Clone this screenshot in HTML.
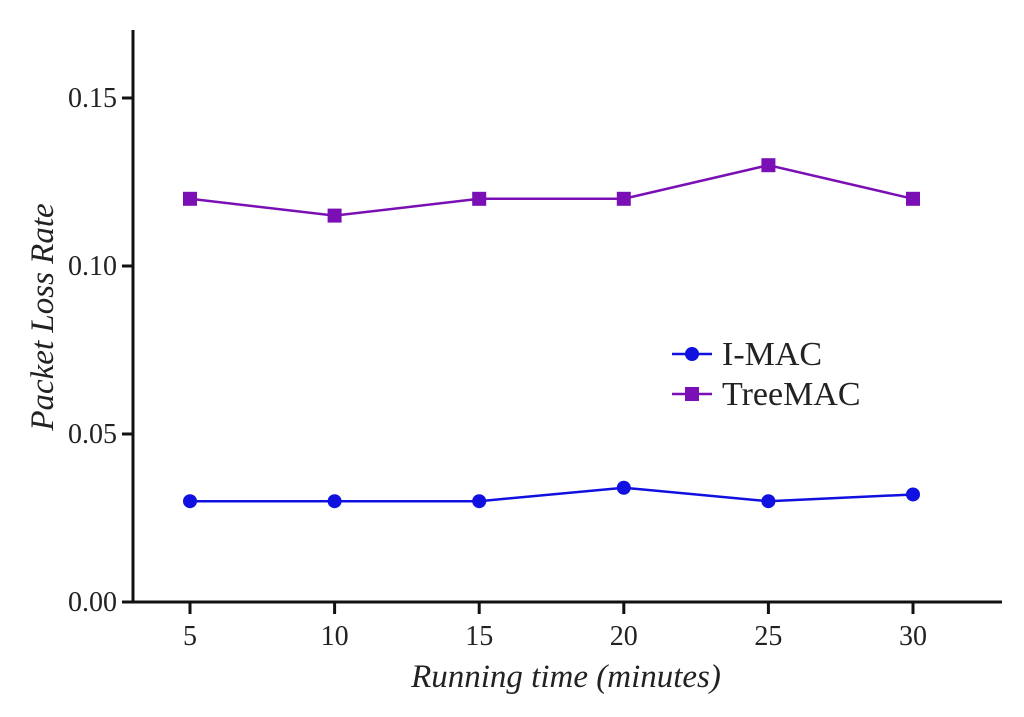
<!DOCTYPE html>
<html><head><meta charset="utf-8"><style>
body{margin:0;background:#fff;width:1024px;height:712px;overflow:hidden}
svg text{font-family:"Liberation Serif",serif;fill:#222}
</style></head><body>
<svg id="chart" width="1024" height="712" xmlns="http://www.w3.org/2000/svg"></svg>
<script>
const categories=[5,10,15,20,25,30];
const imacValues=[0.03,0.03,0.03,0.034,0.03,0.032];
const treemacValues=[0.12,0.115,0.12,0.12,0.13,0.12];
const yTicks=["0.00","0.05","0.10","0.15"];
const NS="http://www.w3.org/2000/svg";
const svg=document.getElementById('chart');
function xS(v){return 190+(v-5)*(913-190)/25;}
function yS(v){return 602-v*(602-98)/0.15;}
function mk(tag,attrs,parent){const e=document.createElementNS(NS,tag);for(const k in attrs)e.setAttribute(k,attrs[k]);(parent||svg).appendChild(e);return e;}
const axes=mk('g',{});


mk('line',{x1:133,y1:30,x2:133,y2:603.5,stroke:'#111','stroke-width':3},axes);
mk('line',{x1:131.5,y1:602,x2:1002,y2:602,stroke:'#111','stroke-width':3},axes);
yTicks.forEach(t=>{const y=yS(parseFloat(t));
 mk('line',{x1:122,y1:y,x2:133,y2:y,stroke:'#111','stroke-width':3},axes);
 const tx=mk('text',{x:117,y:y+9,'text-anchor':'end','font-size':28},axes);tx.textContent=t;
 
 
});
categories.forEach(c=>{const x=xS(c);
 mk('line',{x1:x,y1:602,x2:x,y2:614,stroke:'#111','stroke-width':3},axes);
 const tx=mk('text',{x:x,y:645,'text-anchor':'middle','font-size':28},axes);tx.textContent=c;
 
 
});
const yt=mk('text',{x:0,y:0,transform:'translate(53,317) rotate(-90)','text-anchor':'middle','font-size':33,'font-style':'italic'});
yt.textContent='Packet Loss Rate';


const xt=mk('text',{x:566,y:687,'text-anchor':'middle','font-size':33,'font-style':'italic'});
xt.textContent='Running time (minutes)';


function series(vals,color,shape,name){
 const g=mk('g',{});
 
 
 mk('polyline',{points:vals.map((v,i)=>xS(categories[i])+','+yS(v)).join(' '),fill:'none',stroke:color,'stroke-width':2.5},g);
 vals.forEach((v,i)=>{const x=xS(categories[i]),y=yS(v);let m;
  if(shape==='c')m=mk('circle',{cx:x,cy:y,r:7,fill:color},g);
  else m=mk('rect',{x:x-7,y:y-7,width:14,height:14,fill:color},g);
  
  
 });
}
series(treemacValues,'#7a0fb5','s','treemac-series');
series(imacValues,'#1010e0','c','imac-series');
const lg=mk('g',{});


[['I-MAC','#1010e0','c',354],['TreeMAC','#7a0fb5','s',394]].forEach(([n,c,s,y])=>{
 const e=mk('g',{},lg);
 
 
 mk('line',{x1:672,y1:y,x2:712,y2:y,stroke:c,'stroke-width':2.5},e);
 if(s==='c')mk('circle',{cx:692,cy:y,r:7,fill:c},e);else mk('rect',{x:685,y:y-7,width:14,height:14,fill:c},e);
 const t=mk('text',{x:722,y:y+11,'font-size':34},e);t.textContent=n;
});
</script>
</body></html>
